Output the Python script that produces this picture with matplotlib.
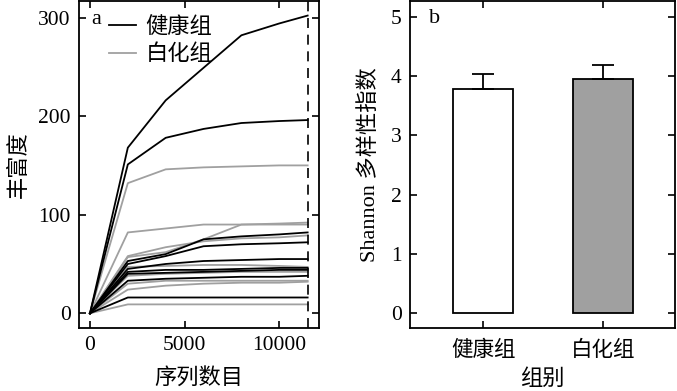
import matplotlib
matplotlib.use("Agg")
import matplotlib.pyplot as plt
from matplotlib.lines import Line2D

plt.rcParams['font.family'] = ['Liberation Serif', 'Noto Sans CJK SC']
plt.rcParams['font.size'] = 15
plt.rcParams['axes.linewidth'] = 1.3

# rarefaction depths
depths = [0, 2000, 4000, 6000, 8000, 10000, 11500]

# healthy group curves (black)
healthy = [
    [0, 168, 216, 249, 282, 294, 302],
    [0, 151, 178, 187, 193, 195, 196],
    [0, 53, 60, 75, 78, 80, 82],
    [0, 50, 58, 68, 70, 71, 72],
    [0, 45, 50, 53, 54, 55, 55],
    [0, 42, 44, 44, 45, 46, 46],
    [0, 40, 41, 42, 43, 44, 44],
    [0, 33, 35, 36, 37, 37, 38],
    [0, 16, 16, 16, 16, 16, 16],
]

# albino group curves (gray)
albino = [
    [0, 132, 146, 148, 149, 150, 150],
    [0, 82, 86, 90, 90, 91, 92],
    [0, 57, 62, 75, 90, 90, 90],
    [0, 58, 67, 73, 76, 77, 79],
    [0, 47, 48, 49, 49, 48, 47],
    [0, 38, 40, 41, 42, 42, 42],
    [0, 30, 33, 33, 33, 33, 33],
    [0, 24, 28, 30, 31, 31, 32],
    [0, 9, 9, 9, 9, 9, 9],
]

end_depth = 11500

groups = ['健康组', '白化组']
shannon = [3.79, 3.95]
shannon_err = [0.24, 0.24]

fig = plt.figure(figsize=(6.77, 3.91), dpi=100)
ax1 = fig.add_axes([0.1167, 0.161, 0.3545, 0.837])
ax2 = fig.add_axes([0.6056, 0.161, 0.3914, 0.837])

# panel a
for c in albino:
    ax1.plot(depths, c, color='#a0a0a0', lw=1.3)
for c in healthy:
    ax1.plot(depths, c, color='black', lw=1.3)
ax1.axvline(end_depth, color='black', lw=1.2, ls=(0, (6, 4)))
ax1.set_xlim(-580, 12100)
ax1.set_ylim(-15, 317)
ax1.set_xticks([0, 5000, 10000])
ax1.set_yticks([0, 100, 200, 300])
ax1.set_xlabel('序列数目', fontsize=16, labelpad=9)
ax1.set_ylabel('丰富度', fontsize=16, labelpad=6)
ax1.text(0.07, 0.942, 'a', transform=ax1.transAxes, fontsize=16,
         ha='center', va='center')
handles = [Line2D([], [], color='black', lw=1.3),
           Line2D([], [], color='#a0a0a0', lw=1.3)]
ax1.legend(handles, groups, loc='upper left', bbox_to_anchor=(0.125, 0.95),
           frameon=False, fontsize=16, handlelength=1.2, handletextpad=0.45,
           borderpad=0, borderaxespad=0, labelspacing=0.3)

# panel b
xpos = [0, 1]
ax2.bar(xpos, shannon, width=0.5, color=['white', '#a0a0a0'],
        edgecolor='black', lw=1.3)
ax2.errorbar(xpos, shannon, yerr=[[0, 0], shannon_err], fmt='none',
             ecolor='black', elinewidth=1.3, capsize=8, capthick=1.3)
ax2.set_xlim(-0.61, 1.6)
ax2.set_ylim(-0.25, 5.27)
ax2.set_xticks(xpos)
ax2.set_xticklabels(groups, fontsize=16)
ax2.set_yticks([0, 1, 2, 3, 4, 5])
ax2.set_xlabel('组别', fontsize=16, labelpad=6)
ax2.set_ylabel('Shannon 多样性指数', fontsize=16, labelpad=8)
ax2.text(0.094, 0.945, 'b', transform=ax2.transAxes, fontsize=16,
         ha='center', va='center')

for ax in (ax1, ax2):
    ax.tick_params(direction='in', length=5, width=1.2, top=True, right=True,
                   labelsize=15.5, pad=6)
ax2.tick_params(axis='x', pad=9)

fig.savefig('out.png', dpi=100)
